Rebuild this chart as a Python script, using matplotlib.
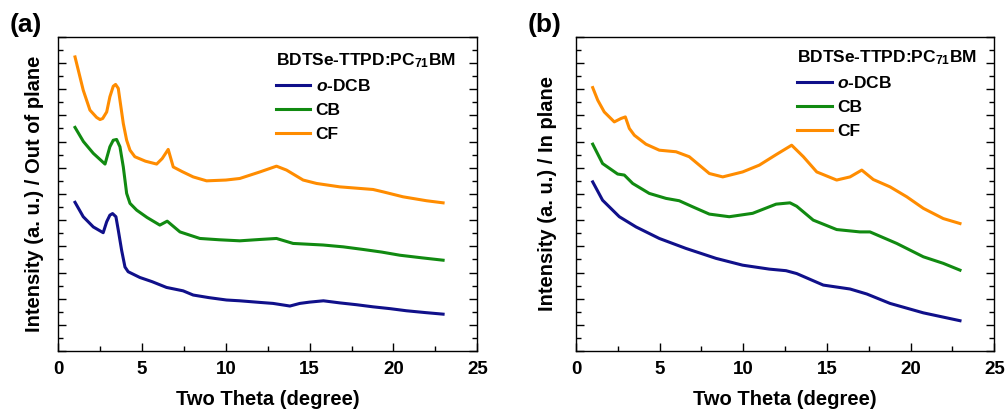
import matplotlib.pyplot as plt
from matplotlib.ticker import MultipleLocator, NullFormatter

plt.rcParams['font.family'] = ['Liberation Sans', 'DejaVu Sans']
plt.rcParams['font.weight'] = 'bold'
plt.rcParams['mathtext.fontset'] = 'custom'
plt.rcParams['mathtext.rm'] = 'Liberation Sans:bold'
plt.rcParams['mathtext.bf'] = 'Liberation Sans:bold'
plt.rcParams['mathtext.it'] = 'Liberation Sans:bold:italic'

# --- (a) out of plane ---
a_dcb_x = [1.0, 1.49, 2.09, 2.68, 2.89, 3.08, 3.24, 3.44, 3.58, 3.78, 3.98, 4.17, 4.87,
           5.6, 6.46, 7.45, 8.05, 9.0, 10.04, 10.83, 12.0, 12.82, 13.82, 14.41, 15.0,
           15.82, 16.8, 17.8, 18.78, 19.8, 20.77, 21.9, 22.96]
a_dcb_y = [5.68, 5.13, 4.74, 4.52, 4.94, 5.19, 5.25, 5.13, 4.62, 3.85, 3.21, 3.03, 2.81,
           2.65, 2.43, 2.30, 2.14, 2.04, 1.95, 1.92, 1.86, 1.82, 1.72, 1.82, 1.87,
           1.92, 1.84, 1.77, 1.69, 1.62, 1.54, 1.47, 1.41]

a_cb_x = [1.0, 1.5, 2.09, 2.79, 3.08, 3.28, 3.48, 3.68, 3.88, 4.08, 4.28, 4.68, 5.3, 6.06,
          6.5, 7.26, 8.45, 9.6, 10.83, 12.0, 13.02, 14.01, 15.8, 17.0, 18.19, 19.3, 20.38,
          21.7, 22.96]
a_cb_y = [8.54, 8.0, 7.55, 7.14, 7.80, 8.05, 8.08, 7.80, 7.03, 6.02, 5.64, 5.38, 5.1, 4.81,
          4.96, 4.55, 4.30, 4.25, 4.21, 4.26, 4.30, 4.11, 4.05, 3.98, 3.88, 3.78, 3.66,
          3.56, 3.47]

a_cf_x = [1.0, 1.49, 1.89, 2.29, 2.49, 2.65, 2.89, 3.08, 3.28, 3.42, 3.58, 3.68, 3.88, 4.08,
          4.28, 4.57, 5.2, 5.87, 6.2, 6.56, 6.86, 7.4, 8.05, 8.85, 10.0, 10.83, 12.03, 13.02,
          13.62, 14.61, 15.41, 16.8, 18.78, 19.38, 20.57, 21.97, 22.96]
a_cf_y = [11.23, 9.96, 9.2, 8.92, 8.84, 8.88, 9.13, 9.71, 10.11, 10.18, 10.03, 9.58, 8.69, 8.05,
          7.67, 7.42, 7.25, 7.14, 7.35, 7.70, 7.03, 6.85, 6.65, 6.50, 6.53, 6.59, 6.84, 7.06,
          6.91, 6.53, 6.40, 6.27, 6.17, 6.08, 5.89, 5.74, 5.66]

# --- (b) in plane ---
b_dcb_x = [1.0, 1.59, 2.59, 3.59, 4.98, 6.57, 8.37, 9.96, 11.55, 12.55, 13.19, 14.78, 16.38,
           17.38, 18.77, 20.76, 22.95]
b_dcb_y = [6.46, 5.76, 5.13, 4.74, 4.30, 3.92, 3.54, 3.28, 3.13, 3.07, 2.96, 2.52, 2.37,
           2.18, 1.82, 1.46, 1.16]

b_cb_x = [1.0, 1.59, 2.49, 2.89, 3.39, 4.38, 5.38, 6.17, 6.97, 7.97, 9.16, 10.56, 11.96,
          12.79, 13.19, 14.18, 15.58, 16.97, 17.57, 19.17, 20.76, 21.95, 22.95]
b_cb_y = [7.90, 7.16, 6.76, 6.72, 6.40, 6.02, 5.83, 5.74, 5.51, 5.23, 5.13, 5.26, 5.61,
          5.66, 5.53, 5.00, 4.64, 4.55, 4.55, 4.11, 3.60, 3.35, 3.09]

b_cf_x = [1.0, 1.30, 1.69, 2.29, 2.69, 2.95, 3.19, 3.49, 4.18, 4.98, 5.98, 6.77, 7.37, 7.97,
          8.77, 9.96, 10.96, 11.96, 12.89, 13.59, 14.39, 15.58, 16.38, 17.08, 17.77, 18.77,
          19.77, 20.76, 21.95, 22.95]
b_cf_y = [10.06, 9.58, 9.13, 8.75, 8.88, 8.94, 8.50, 8.24, 7.90, 7.67, 7.61, 7.42, 7.10, 6.78,
          6.65, 6.84, 7.10, 7.50, 7.86, 7.42, 6.84, 6.53, 6.65, 6.91, 6.55, 6.27,
          5.89, 5.45, 5.06, 4.87]

labels = [r'$\it{o}$-DCB', 'CB', 'CF']
colors = ['#10108a', '#118a11', '#ff8c00']
title = r'BDTSe-TTPD:PC$_{71}$BM'

fig = plt.figure(figsize=(10.08, 4.15), dpi=100)
ax1 = fig.add_axes([0.0578, 0.154, 0.4157, 0.7574])
ax2 = fig.add_axes([0.5714, 0.154, 0.415, 0.7574])

panels = [
    (ax1, [(a_dcb_x, a_dcb_y), (a_cb_x, a_cb_y), (a_cf_x, a_cf_y)],
     'Intensity (a. u.) / Out of plane', '(a)', 0.0098, (0.519, 0.955), 3),
    (ax2, [(b_dcb_x, b_dcb_y), (b_cb_x, b_cb_y), (b_cf_x, b_cf_y)],
     'Intensity (a. u.) / In plane', '(b)', 0.523, (0.528, 0.964), 7),
]

for ax, series, ylab, tag, tagx, legpos, ypad in panels:
    for (x, y), lab, c in zip(series, labels, colors):
        ax.plot(x, y, color=c, lw=2.2, label=lab, solid_joinstyle='round')
    ax.set_xlim(0, 25)
    ax.set_ylim(0, 12)
    ax.xaxis.set_major_locator(MultipleLocator(5))
    ax.xaxis.set_minor_locator(MultipleLocator(2.5))
    ax.yaxis.set_major_locator(MultipleLocator(1))
    ax.yaxis.set_minor_locator(MultipleLocator(0.5))
    ax.yaxis.set_major_formatter(NullFormatter())
    ax.tick_params(which='both', direction='in', right=True, top=False, width=1)
    ax.tick_params(which='major', length=6, labelsize=13.5, pad=7)
    ax.tick_params(which='minor', length=3.5)
    for s in ax.spines.values():
        s.set_linewidth(1.0)
    ax.set_xlabel('Two Theta (degree)', fontsize=14.5, fontweight='bold', labelpad=9)
    ax.set_ylabel(ylab, fontsize=14.5, fontweight='bold', labelpad=ypad)
    leg = ax.legend(loc='upper left', bbox_to_anchor=legpos, frameon=False, fontsize=12.5,
                    title=title, title_fontproperties={'size': 12.5, 'weight': 'bold'},
                    alignment='left', borderpad=0, borderaxespad=0, handlelength=2.0,
                    handletextpad=0.3, labelspacing=0.5)
    fig.text(tagx, 0.94, tag, fontsize=19, fontweight='bold', va='center')

fig.savefig('out.png', dpi=100)
